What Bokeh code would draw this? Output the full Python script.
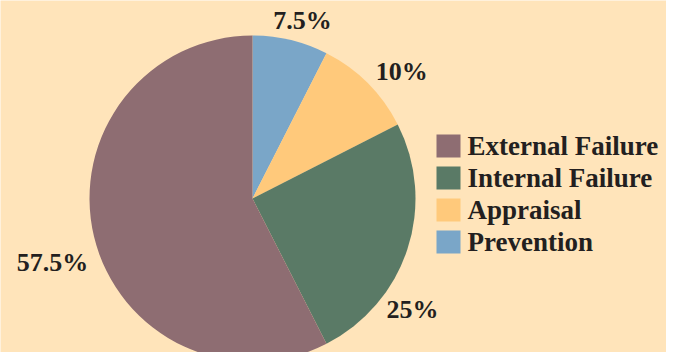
import math
from bokeh.plotting import figure
from bokeh.models import Range1d
from bokeh.core.properties import value
from bokeh.embed import file_html
from bokeh.resources import INLINE

# Data (legend order)
categories = ["External Failure", "Internal Failure", "Appraisal", "Prevention"]
percent = [57.5, 25, 10, 7.5]
pct_labels = ["57.5%", "25%", "10%", "7.5%"]
colors = ["#8E6D72", "#5A7A66", "#FFC97B", "#7AA6C8"]

BG = "#FFE4BA"
TXT = "#231F20"
FONT = value("Liberation Serif")

W, H = 666, 352
p = figure(width=W, height=H, output_backend="svg", toolbar_location=None,
           x_range=Range1d(0, W), y_range=Range1d(0, H),
           min_border=0, background_fill_color=BG, border_fill_color=BG,
           outline_line_color=None)
p.axis.visible = False
p.grid.visible = False

cx, cy, r = 252, H - 198, 163

# Pie: starting at top, clockwise: Prevention, Appraisal, Internal, External
order = list(reversed(range(len(categories))))
starts, ends, cols = [], [], []
a = math.pi / 2
for i in order:
    sweep = percent[i] / 100 * 2 * math.pi
    starts.append(a)
    ends.append(a - sweep)
    cols.append(colors[i])
    a -= sweep
p.wedge(x=cx, y=cy, radius=r, start_angle=starts, end_angle=ends,
        direction="clock", fill_color=cols, line_color=None)

# percentage labels (placement angle in degrees and radius for each, legend order)
lab_ang = [197.7, -34.8, 40.4, 74.3]
lab_rad = [210, 195, 196, 185]
lx = [cx + rr * math.cos(math.radians(aa)) for aa, rr in zip(lab_ang, lab_rad)]
ly = [cy + rr * math.sin(math.radians(aa)) for aa, rr in zip(lab_ang, lab_rad)]
p.text(x=lx, y=ly, text=pct_labels, text_font=FONT, text_font_style="bold",
       text_font_size="26px", text_color=TXT, text_align="center",
       text_baseline="middle")

# legend
leg_x, step = 448, 32
leg_y0 = H - 145.5
ys = [leg_y0 - k * step for k in range(len(categories))]
p.rect(x=[leg_x] * len(categories), y=ys, width=24, height=23,
       fill_color=colors, line_color=None)
p.text(x=[leg_x + 19] * len(categories), y=ys, text=categories, text_font=FONT,
       text_font_style="bold", text_font_size="27px", text_color=TXT,
       text_align="left", text_baseline="middle")

open("out.html", "w").write(file_html(p, INLINE))
